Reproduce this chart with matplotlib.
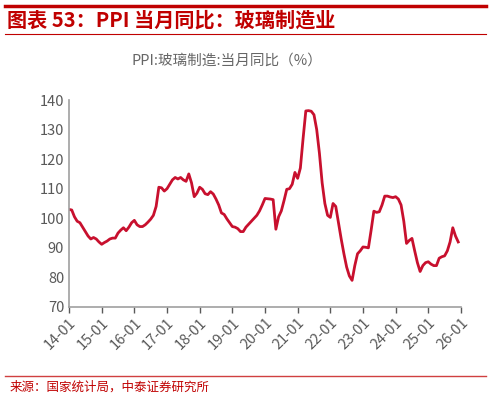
import numpy as np
import matplotlib.pyplot as plt
from matplotlib.lines import Line2D

plt.rcParams['font.family'] = ['Noto Sans CJK SC', 'DejaVu Sans']

# monthly values, 2014-01 .. 2025-12
y2014 = [103, 102.8, 100.5, 99, 98.5, 97, 95.5, 94, 93, 93.5, 93, 92]
y2015 = [91.2, 91.8, 92.3, 93, 93.3, 93.3, 95, 96, 96.8, 95.8, 97, 98.5]
y2016 = [99.3, 97.8, 97.2, 97.2, 97.8, 98.7, 99.7, 101, 104, 110.5, 110.3, 109.2]
y2017 = [110, 111.5, 113, 113.8, 113.3, 113.8, 113, 112.5, 115, 112, 107.3, 108.5]
y2018 = [110.5, 109.8, 108.3, 108, 109, 108.2, 106.5, 104.5, 101.8, 101.3, 99.8, 98.5]
y2019 = [97.2, 97, 96.5, 95.5, 95.5, 97, 98, 99, 100, 101, 102.5, 104.5]
y2020 = [106.7, 106.6, 106.5, 106.3, 96.3, 100.5, 102.5, 106, 109.8, 110, 111.5, 115.5]
y2021 = [113.5, 117, 127, 136.3, 136.4, 136.2, 135, 130, 122, 112, 105, 101]
y2022 = [100.3, 105, 104, 98.5, 93, 88, 83.5, 80.5, 79, 84, 88, 89]
y2023 = [90.3, 90.2, 90, 96, 102.4, 102, 102.2, 104.5, 107.5, 107.5, 107.2, 107]
y2024 = [107.3, 106.5, 104.5, 99, 91.5, 92.5, 93.2, 89, 85, 82, 84, 85]
y2025 = [85.3, 84.5, 84, 84, 86.5, 87, 87.3, 89, 92, 96.8, 94, 92]
values = y2014 + y2015 + y2016 + y2017 + y2018 + y2019 + y2020 + y2021 + y2022 + y2023 + y2024 + y2025
tick_labels = ['%02d-01' % y for y in range(14, 27)]

red = '#c8102e'
grey = '#595959'

fig = plt.figure(figsize=(4.93, 4.0), dpi=100)

# header / footer decorations
fig.add_artist(Line2D([0.01, 0.985], [0.985, 0.985], color='#c00000', lw=2.5))
fig.add_artist(Line2D([0.01, 0.985], [0.915, 0.915], color='#c00000', lw=0.8))
fig.add_artist(Line2D([0.01, 0.985], [0.06, 0.06], color='#d04040', lw=1.0))
fig.text(0.015, 0.95, '图表 53：PPI 当月同比：玻璃制造业', color='#c00000',
         fontsize=14.5, fontweight='bold', fontstyle='italic', va='center')
fig.text(0.46, 0.848, 'PPI:玻璃制造:当月同比（%）', color='#666666', fontsize=10.5,
         ha='center', va='center')
fig.text(0.02, 0.032, '来源：国家统计局，中泰证券研究所', color='#c00000', fontsize=9, va='center')

ax = fig.add_axes([0.140, 0.2325, 0.795, 0.5175])
x = np.arange(len(values))
ax.plot(x, values, color=red, lw=2)
ax.set_xlim(0, 144)
ax.set_ylim(70, 140)
ax.set_xticks(np.arange(0, 145, 12))
ax.set_xticklabels(tick_labels, rotation=45, ha='right', rotation_mode='anchor')
ax.set_yticks(range(70, 141, 10))
for s in ['top', 'right']:
    ax.spines[s].set_visible(False)
for s in ['left', 'bottom']:
    ax.spines[s].set_color('#a0a0a0')
    ax.spines[s].set_linewidth(1.2)
ax.tick_params(colors=grey, labelsize=10.5, length=4, width=1, direction='out')
ax.tick_params(axis='x', pad=2)
ax.tick_params(axis='y', length=0)

fig.savefig('out.png', dpi=100)
